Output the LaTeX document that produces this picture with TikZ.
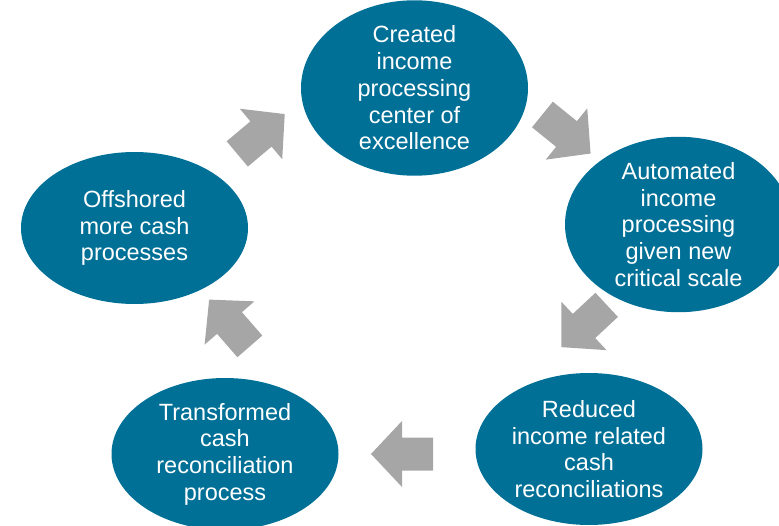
\documentclass[tikz,border=0pt]{standalone}
\usepackage{fontspec}
\setmainfont{Liberation Sans}
\usetikzlibrary{shapes.geometric}
\definecolor{stageteal}{RGB}{0,112,150}
\definecolor{arrowgray}{RGB}{166,166,166}
\tikzset{
  stage/.style={ellipse, fill=stageteal, text=white, minimum width=227pt,
    minimum height=152pt, inner sep=0pt, align=center,
    font=\fontsize{23.5}{26.7}\selectfont},
  blockarrow/.pic={\fill[arrowgray] (-31,-16.5) -- (0,-16.5) -- (0,-33) -- (31,0)
    -- (0,33) -- (0,16.5) -- (-31,16.5) -- cycle;}
}
\begin{document}
\begin{tikzpicture}[x=1pt,y=1pt]
\useasboundingbox (0,0) rectangle (779,525);
\clip (0,0) rectangle (779,525);
\node[stage] (created) at (414.5,437) {Created\\income\\processing\\center of\\excellence};
\node[stage] (automated) at (678.5,300.5) {Automated\\income\\processing\\given new\\critical scale};
\node[stage] (reduced) at (589,76) {Reduced\\income related\\cash\\reconciliations};
\node[stage] (transformed) at (225,71) {Transformed\\cash\\reconciliation\\process};
\node[stage] (offshored) at (134.5,297) {Offshored\\more cash\\processes};
\pic[rotate=40] at (261,391) {blockarrow};
\pic[rotate=-39] at (566.5,391) {blockarrow};
\pic[rotate=-137] at (584,199) {blockarrow};
\pic[rotate=180] at (402,71) {blockarrow};
\pic[rotate=131] at (229.5,202) {blockarrow};
\end{tikzpicture}
\end{document}
